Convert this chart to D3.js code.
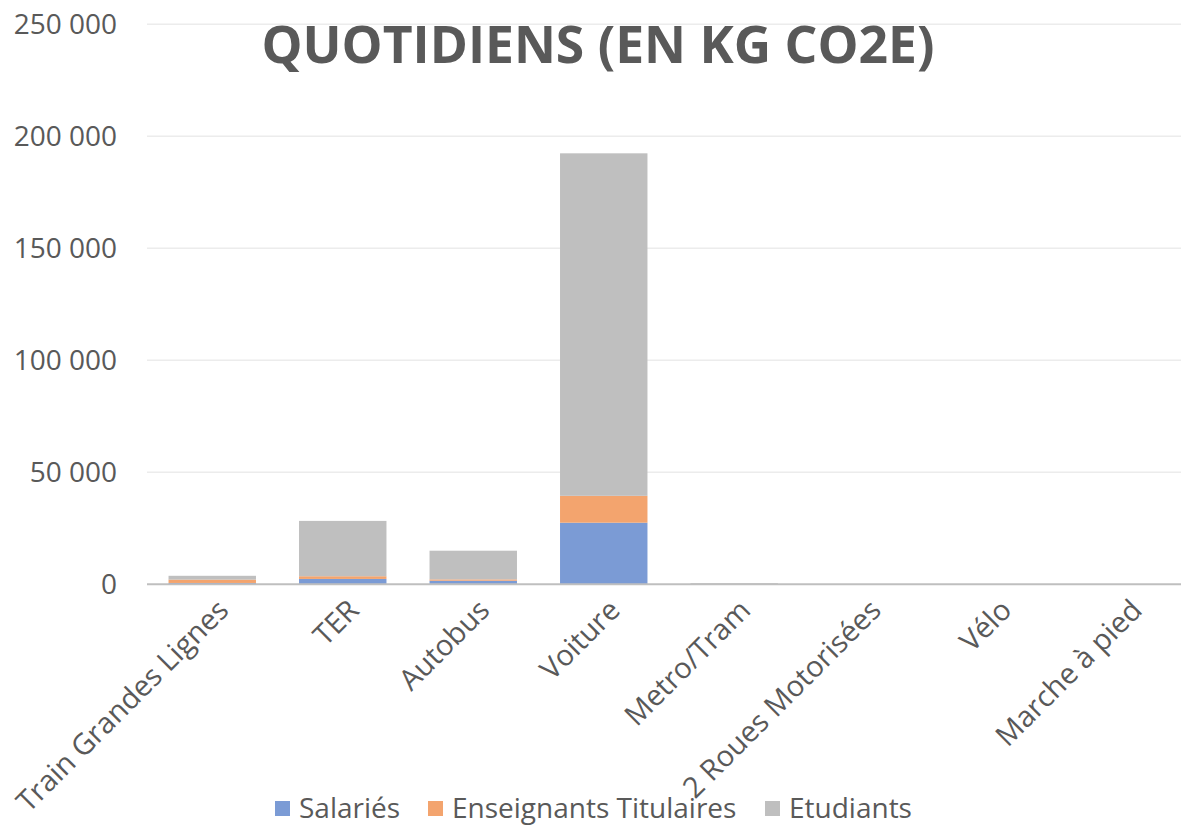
<!DOCTYPE html>
<html>
<head>
<meta charset="utf-8">
<script src="https://cdn.jsdelivr.net/npm/d3@7"></script>
<style>
  body { margin: 0; background: #fff; }
  text { font-family: "Open Sans", sans-serif; fill: #595959; }
</style>
</head>
<body>
<div id="chart"></div>
<script>
const categories = ["Train Grandes Lignes", "TER", "Autobus", "Voiture", "Metro/Tram", "2 Roues Motorisées", "Vélo", "Marche à pied"]
const seriesNames = ["Salariés", "Enseignants Titulaires", "Etudiants"]
const salaries = [600, 2400, 1600, 27500, 100, 0, 0, 0]
const enseignants = [1500, 1200, 600, 12000, 50, 0, 0, 0]
const etudiants = [1700, 24700, 12800, 152900, 350, 0, 0, 0]
const yTicks = [0, 50000, 100000, 150000, 200000, 250000]
const colors = ["#7b9bd5", "#f3a46e", "#bfbfbf"]

const width = 1181, height = 826

const svg = d3.select("#chart")
  .append("svg")
  .attr("width", width)
  .attr("height", height)

const rows = categories.map((c, i) => ({
  cat: c,
  "Salariés": salaries[i],
  "Enseignants Titulaires": enseignants[i],
  "Etudiants": etudiants[i]
}))

const stack = d3.stack().keys(seriesNames)(rows)

const x = d3.scaleBand()
  .domain(categories)
  .range([147, 1191])
  .paddingInner(0.33)
  .paddingOuter(0.165)

const y = d3.scaleLinear()
  .domain([0, 250000])
  .range([584.3, 24.3])

// gridlines
svg.append("g")
  .selectAll("line")
  .data(yTicks.slice(1))
  .join("line")
  .attr("x1", 147)
  .attr("x2", width)
  .attr("y1", d => y(d))
  .attr("y2", d => y(d))
  .style("stroke", "#ececec")
  .style("stroke-width", 1.5)

// y labels
svg.append("g")
  .selectAll("text")
  .data(yTicks)
  .join("text")
  .attr("x", 117)
  .attr("y", d => y(d))
  .attr("dy", "0.36em")
  .attr("text-anchor", "end")
  .style("font-size", "28px")
  .text(d => d3.format(",")(d).replace(/,/g, " "))

// bars
svg.append("g")
  .selectAll("g")
  .data(stack)
  .join("g")
  .attr("fill", (d, i) => colors[i])
  .selectAll("rect")
  .data(d => d)
  .join("rect")
  .attr("x", d => x(d.data.cat))
  .attr("width", x.bandwidth())
  .attr("y", d => y(d[1]))
  .attr("height", d => y(d[0]) - y(d[1]))

// axis line
svg.append("line")
  .attr("x1", 147)
  .attr("x2", width)
  .attr("y1", y(0))
  .attr("y2", y(0))
  .style("stroke", "#bfbfbf")
  .style("stroke-width", 2)

// category labels
svg.append("g")
  .selectAll("text")
  .data(categories)
  .join("text")
  .attr("text-anchor", "end")
  .attr("transform", d => "translate(" + (x(d) + x.bandwidth() / 2 + 18) + "," + 612 + ") rotate(-45)")
  .style("font-size", "29px")
  .text(d => d)

// title
svg.append("text")
  .attr("x", 598)
  .attr("y", 63)
  .attr("text-anchor", "middle")
  .attr("textLength", 673)
  .attr("lengthAdjust", "spacingAndGlyphs")
  .style("font-size", "52px")
  .style("font-weight", "bold")
  .text("QUOTIDIENS (EN KG CO2E)")

// legend
const legendX = [275, 428, 765]
const legend = svg.append("g")
  .selectAll("g")
  .data(seriesNames)
  .join("g")
  .attr("transform", (d, i) => "translate(" + legendX[i] + ",808)")

legend.append("rect")
  .attr("x", 0)
  .attr("y", -7)
  .attr("width", 15)
  .attr("height", 15)
  .attr("fill", (d, i) => colors[i])

legend.append("text")
  .attr("x", 24)
  .attr("dy", "0.36em")
  .style("font-size", "28px")
  .text(d => d)
</script>
</body>
</html>
